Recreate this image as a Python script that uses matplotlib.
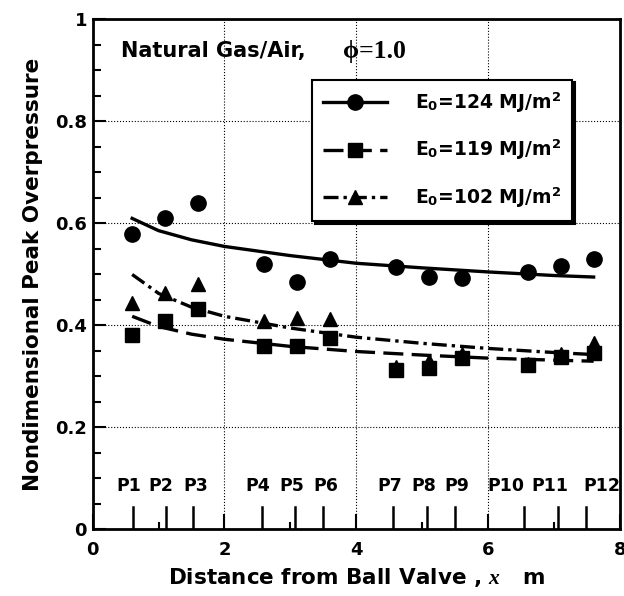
import numpy as np
import matplotlib
matplotlib.use('Agg')
import matplotlib.pyplot as plt
from matplotlib.ticker import MultipleLocator

plt.rcParams['font.family'] = ['DejaVu Sans']
plt.rcParams['font.weight'] = 'bold'
plt.rcParams['mathtext.fontset'] = 'custom'
plt.rcParams['mathtext.rm'] = 'DejaVu Sans:bold'
plt.rcParams['mathtext.bf'] = 'DejaVu Sans:bold'
plt.rcParams['mathtext.it'] = 'Liberation Serif:italic'

# measured points at the pressure transducers
x_pts = [0.6, 1.1, 1.6, 2.6, 3.1, 3.6, 4.6, 5.1, 5.6, 6.6, 7.1, 7.6]
p_124 = [0.580, 0.611, 0.641, 0.521, 0.485, 0.530, 0.515, 0.495, 0.493, 0.505, 0.516, 0.530]
p_119 = [0.381, 0.408, 0.433, 0.359, 0.359, 0.375, 0.313, 0.317, 0.336, 0.323, 0.339, 0.346]
p_102 = [0.444, 0.464, 0.482, 0.408, 0.415, 0.412, 0.318, 0.330, 0.345, 0.325, 0.345, 0.366]

# fitted curves
x_fit = [0.6, 1.0, 1.5, 2.0, 3.0, 4.0, 5.0, 6.0, 7.0, 7.6]
fit_124 = [0.610, 0.586, 0.568, 0.555, 0.537, 0.522, 0.513, 0.505, 0.498, 0.495]
fit_119 = [0.418, 0.398, 0.383, 0.373, 0.359, 0.349, 0.342, 0.336, 0.332, 0.330]
fit_102 = [0.500, 0.463, 0.436, 0.418, 0.395, 0.377, 0.365, 0.355, 0.347, 0.343]

# transducer locations and their labels
sensor_x = [0.61, 1.11, 1.53, 2.57, 3.07, 3.50, 4.56, 5.07, 5.50, 6.55, 7.06, 7.48]
sensor_lbl = ['P1', 'P2', 'P3', 'P4', 'P5', 'P6', 'P7', 'P8', 'P9', 'P10', 'P11', 'P12']
sensor_lbl_x = [0.55, 1.04, 1.56, 2.51, 3.02, 3.53, 4.51, 5.02, 5.53, 6.27, 6.94, 7.72]

labels = [r'E$_0$=124 MJ/m$^2$', r'E$_0$=119 MJ/m$^2$', r'E$_0$=102 MJ/m$^2$']

fig = plt.figure(figsize=(6.24, 5.96), dpi=100)
ax = fig.add_axes([0.1484, 0.1116, 0.8452, 0.8557])

lw = 2.4
ls_dash = (0, (6, 2.5))
ls_dd = (0, (4.5, 1.5, 1, 1.5))
ax.plot(x_fit, fit_124, color='k', lw=lw, ls='-')
ax.plot(x_fit, fit_119, color='k', lw=lw, ls=ls_dash)
ax.plot(x_fit, fit_102, color='k', lw=lw, ls=ls_dd)
ax.plot(x_pts, p_124, 'o', color='k', ms=11, ls='none')
ax.plot(x_pts, p_119, 's', color='k', ms=10.5, ls='none')
ax.plot(x_pts, p_102, '^', color='k', ms=10, ls='none')

# legend proxies (line + marker)
h1, = ax.plot([], [], color='k', lw=lw, ls='-', marker='o', ms=11)
h2, = ax.plot([], [], color='k', lw=lw, ls=ls_dash, marker='s', ms=10.5)
h3, = ax.plot([], [], color='k', lw=lw, ls=ls_dd, marker='^', ms=10)
leg = ax.legend([h1, h2, h3], labels, loc='upper left', bbox_to_anchor=(0.416, 0.882),
                borderaxespad=0, fontsize=13.5, handlelength=3.4, handletextpad=1.5,
                labelspacing=1.24, numpoints=1, fancybox=False, framealpha=1,
                edgecolor='k', shadow={'color': 'k', 'alpha': 1}, borderpad=0.6)
leg.get_frame().set_linewidth(1.5)

# transducer marks
for sx in sensor_x:
    ax.plot([sx, sx], [0, 0.044], color='k', lw=1.8)
for lx, sl in zip(sensor_lbl_x, sensor_lbl):
    ax.text(lx, 0.086, sl, ha='center', va='center', fontsize=12.5, fontweight='bold')

ax.text(0.43, 0.939, 'Natural Gas/Air,', fontsize=15, fontweight='bold', va='center')
ax.text(3.8, 0.937, 'ϕ=1.0', fontsize=18.5, fontweight='bold', va='center',
        family=['Liberation Serif', 'DejaVu Serif'])

ax.set_xlim(0, 8)
ax.set_ylim(0, 1)
ax.xaxis.set_major_locator(MultipleLocator(2))
ax.xaxis.set_minor_locator(MultipleLocator(1))
ax.yaxis.set_major_locator(MultipleLocator(0.2))
ax.yaxis.set_minor_locator(MultipleLocator(0.05))
ax.set_yticks([0, 0.2, 0.4, 0.6, 0.8, 1])
ax.set_yticklabels(['0', '0.2', '0.4', '0.6', '0.8', '1'])
ax.tick_params(which='both', direction='in', labelsize=13, top=False, right=False)
ax.tick_params(axis='x', which='major', length=11, width=1.5, pad=8)
ax.tick_params(axis='x', which='minor', length=5, width=1.5)
ax.tick_params(axis='y', which='major', length=9, width=1.5, pad=4)
ax.tick_params(axis='y', which='minor', length=6, width=1.5)
for s in ax.spines.values():
    s.set_linewidth(2)

ax.grid(True, which='major', color='k', ls=':', lw=0.8)
ax.set_axisbelow(True)

ax.set_xlabel(r'Distance from Ball Valve , $x$   m', fontsize=15.5, fontweight='bold', labelpad=5)
ax.set_ylabel('Nondimensional Peak Overpressure', fontsize=15.5, fontweight='bold', labelpad=9)

fig.savefig('out.png', dpi=100)
